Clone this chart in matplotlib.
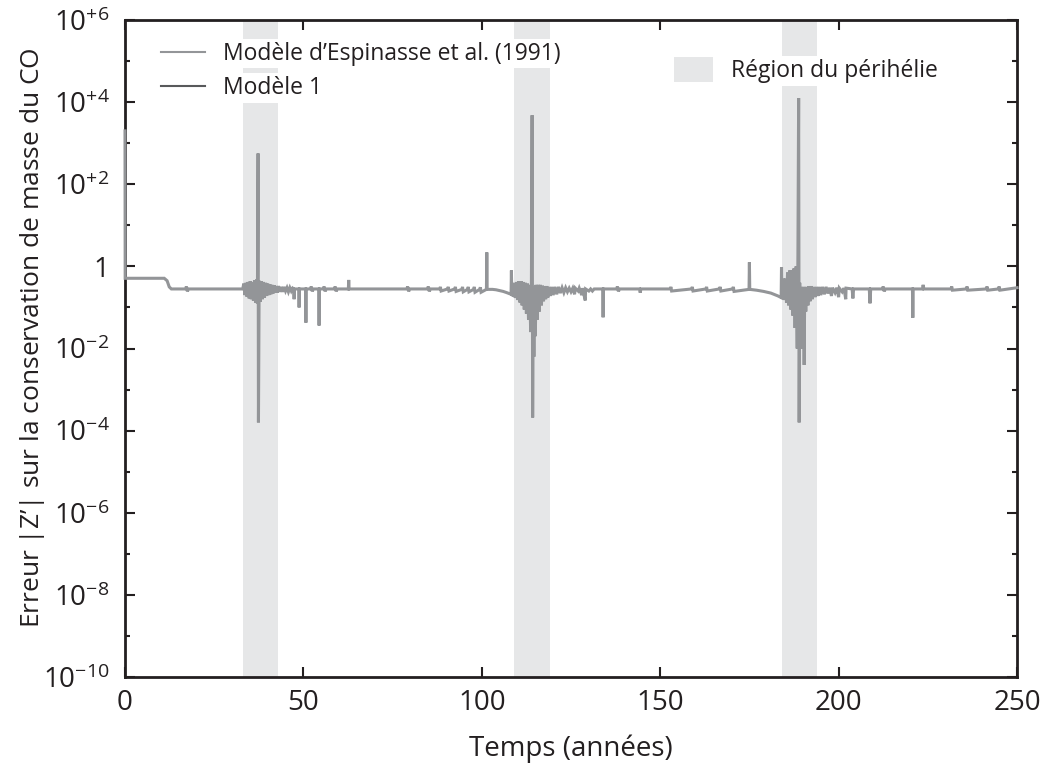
import matplotlib
matplotlib.use("Agg")
import matplotlib.pyplot as plt
from matplotlib.lines import Line2D
from matplotlib.patches import Patch
from matplotlib.ticker import NullFormatter, FixedLocator
import numpy as np

plt.rcParams['font.family'] = ['Open Sans', 'DejaVu Sans']
plt.rcParams['mathtext.fontset'] = 'custom'
plt.rcParams['mathtext.rm'] = 'Open Sans'
plt.rcParams['mathtext.it'] = 'Open Sans:italic'
plt.rcParams['mathtext.default'] = 'regular'

# data: time (years) and log10 of the error |Z'|
t_debut = [0, 0.05, 11.0, 11.8, 12.4, 13.0, 17.0, 17.2, 17.5, 17.8, 33.0]
z_debut = [3.3, -0.29, -0.29, -0.35, -0.5, -0.55, -0.55, -0.49, -0.61, -0.55, -0.55]

t_p1 = [33.3, 33.6, 33.9, 34.2, 34.5, 34.8, 35.1, 35.4, 35.7, 36.0, 36.3, 36.6, 36.9, 37.1,
        37.3, 37.4, 37.6, 37.9, 38.2, 38.5, 38.8, 39.1, 39.4, 39.7, 40.0, 40.3, 40.6, 40.9,
        41.2, 41.5, 41.8, 42.1, 42.4, 42.7, 43.0, 43.4, 43.8, 44.2, 44.6, 45.0, 45.4, 45.8,
        46.2, 46.6, 47.0]
z_p1 = [-0.42, -0.70, -0.40, -0.74, -0.38, -0.78, -0.36, -0.80, -0.38, -0.84, -0.34, -0.88, -0.32, -0.9,
        2.75, -3.8, -0.35, -0.86, -0.36, -0.80, -0.38, -0.76, -0.40, -0.72, -0.42, -0.70, -0.44, -0.68,
        -0.45, -0.66, -0.46, -0.64, -0.48, -0.64, -0.48, -0.62, -0.50, -0.62, -0.50, -0.60, -0.52, -0.62,
        -0.52, -0.60, -0.53]

t_milieu1 = [47.3, 47.4, 47.5, 48.7, 48.8, 48.9, 50.6, 50.7, 50.8, 52.0, 52.2, 52.5, 52.8,
             54.3, 54.4, 54.5, 55.6, 55.8, 56.1, 56.4, 58.7, 58.9, 59.2, 59.5, 62.6, 62.7, 62.8,
             79.0, 79.2, 79.5, 79.8, 84.8, 85.0, 85.3, 85.6, 88.2, 88.4, 88.6, 90.4, 90.6, 90.8,
             92.4, 92.6, 92.8, 94.4, 94.6, 94.8, 96.0, 96.2, 96.4, 97.7, 97.9, 98.1, 99.4, 99.6, 99.8,
             101.3, 101.4, 101.5, 103.0, 104.0, 105.0, 106.0, 107.0, 108.2, 108.3, 108.4, 109.0]
z_milieu1 = [-0.55, -0.80, -0.55, -0.55, -1.0, -0.55, -0.55, -1.37, -0.55, -0.55, -0.49, -0.61, -0.55,
             -0.55, -1.44, -0.55, -0.55, -0.49, -0.61, -0.55, -0.55, -0.49, -0.61, -0.55, -0.55, -0.33, -0.55,
             -0.55, -0.49, -0.61, -0.55, -0.55, -0.49, -0.61, -0.55, -0.55, -0.50, -0.60, -0.55, -0.50, -0.60,
             -0.55, -0.50, -0.61, -0.56, -0.50, -0.62, -0.56, -0.50, -0.62, -0.56, -0.50, -0.63, -0.56, -0.51, -0.63,
             -0.56, 0.34, -0.56, -0.56, -0.57, -0.59, -0.61, -0.64, -0.68, -0.1, -0.69, -0.72]

t_p2 = [109.2, 109.5, 109.8, 110.1, 110.4, 110.7, 111.0, 111.3, 111.6, 111.9, 112.2, 112.5, 112.8,
        113.1, 113.4, 113.7, 113.9, 114.1, 114.25, 114.4, 114.6, 114.8, 115.0, 115.2, 115.5, 115.8,
        116.1, 116.4, 116.7, 117.0, 117.3, 117.6, 117.9, 118.2, 118.5, 118.8, 119.2, 119.6, 120.0,
        120.5, 121.0, 121.5, 122.0, 122.5, 123.0, 123.5, 124.0, 124.5, 125.0, 125.5, 126.0, 126.2,
        127.0, 127.3, 128.0, 128.2, 129.0, 129.1, 130.0, 130.5, 131.0, 131.5]
z_p2 = [-0.40, -0.76, -0.38, -0.82, -0.36, -0.88, -0.36, -0.95, -0.38, -1.05, -0.40, -1.15, -0.42,
        -1.3, -0.45, -1.6, -0.5, 3.68, -3.68, -0.55, -2.2, -0.5, -1.7, -0.45, -1.3, -0.45,
        -1.1, -0.45, -0.95, -0.47, -0.85, -0.48, -0.80, -0.48, -0.76, -0.50, -0.72, -0.50, -0.70,
        -0.50, -0.68, -0.50, -0.65, -0.52, -0.64, -0.52, -0.62, -0.53, -0.62, -0.53, -0.68, -0.53,
        -0.60, -0.53, -0.70, -0.53, -0.83, -0.55, -0.60, -0.55, -0.60, -0.55]

t_milieu2 = [133.9, 134.0, 134.1, 137.8, 138.0, 138.3, 138.6, 144.2, 144.4, 144.6, 152.8, 153.0, 153.2,
             158.8, 159.0, 159.2, 162.8, 163.0, 163.2, 166.6, 166.8, 167.0, 170.3, 170.5, 170.7,
             174.9, 175.0, 175.1, 177.0, 179.0, 181.0, 183.0, 183.9]
z_milieu2 = [-0.55, -1.24, -0.55, -0.55, -0.49, -0.61, -0.55, -0.55, -0.64, -0.55, -0.55, -0.50, -0.60,
             -0.55, -0.50, -0.60, -0.55, -0.50, -0.60, -0.55, -0.50, -0.60, -0.55, -0.50, -0.61,
             -0.56, 0.1, -0.56, -0.58, -0.61, -0.65, -0.72, -0.76]

t_p3 = [184.0, 184.1, 184.5, 184.8, 185.1, 185.4, 185.7, 186.0, 186.3, 186.6, 186.9, 187.2, 187.5,
        187.8, 188.1, 188.4, 188.6, 188.8, 188.95, 189.1, 189.4, 189.6, 189.9, 190.2, 190.35, 190.5,
        190.8, 191.1, 191.4, 191.7, 192.0, 192.3, 192.6, 193.0, 193.4, 193.8, 194.2, 194.6, 195.0,
        195.5, 196.0, 196.5, 197.0, 197.5, 198.0, 198.3, 199.0, 199.5, 200.0, 200.2, 201.0, 201.5,
        202.0, 202.1]
z_p3 = [-0.02, -0.78, -0.3, -0.82, -0.3, -0.88, -0.15, -0.95, -0.1, -1.05, -0.1, -1.2, -0.05,
        -1.5, 0.0, -2.0, 0.3, 4.1, -3.8, -0.4, -2.0, -0.5, -1.5, -0.5, -2.4, -0.5,
        -1.1, -0.5, -0.95, -0.48, -0.85, -0.48, -0.8, -0.5, -0.75, -0.5, -0.72, -0.5, -0.7,
        -0.5, -0.68, -0.5, -0.66, -0.52, -0.72, -0.52, -0.64, -0.52, -0.75, -0.53, -0.62, -0.53,
        -0.8, -0.53]

t_fin = [203.8, 204.0, 204.2, 208.6, 208.8, 209.0, 212.3, 212.5, 212.8, 213.1, 220.7, 220.8, 220.9,
         223.5, 223.7, 223.9, 231.5, 231.7, 231.9, 235.8, 236.0, 236.2, 241.4, 241.6, 241.8,
         244.8, 245.0, 245.2, 250.0]
z_fin = [-0.55, -0.78, -0.55, -0.55, -0.9, -0.55, -0.55, -0.49, -0.61, -0.55, -0.55, -1.25, -0.55,
         -0.55, -0.45, -0.55, -0.55, -0.49, -0.58, -0.55, -0.49, -0.58, -0.55, -0.49, -0.58,
         -0.55, -0.49, -0.58, -0.52]

# perihelion regions (years)
perihelie_debut = [33, 109, 184]
perihelie_fin = [43, 119, 194]

temps = np.array(t_debut + t_p1 + t_milieu1 + t_p2 + t_milieu2 + t_p3 + t_fin)
erreur = 10.0 ** np.array(z_debut + z_p1 + z_milieu1 + z_p2 + z_milieu2 + z_p3 + z_fin)

noir = '#231f20'
gris = '#939598'
gris_fonce = '#58595b'
gris_bande = '#e6e7e8'

fig = plt.figure(figsize=(10.4, 7.66), dpi=100)
ax = fig.add_axes([125 / 1040, 1 - 677 / 766, (1017 - 125) / 1040, (677 - 20) / 766])

for a, b in zip(perihelie_debut, perihelie_fin):
    ax.axvspan(a, b, color=gris_bande, lw=0, zorder=0)

# drawn above the spines, as in the original (the first point lies on the left spine)
ax.plot(temps, erreur, color=gris, lw=2.2, zorder=3, clip_on=False, solid_joinstyle='miter')

ax.set_yscale('log')
ax.set_xlim(0, 250)
ax.set_ylim(1e-10, 1e6)

yt = [10.0 ** k for k in range(-10, 7, 2)]
ylabs = ['10$^{%d}$' % k if k < 0 else ('1' if k == 0 else '10$^{+%d}$' % k) for k in range(-10, 7, 2)]
ax.set_yticks(yt)
ax.set_yticklabels(ylabs)
ax.yaxis.set_minor_locator(FixedLocator([10.0 ** k for k in range(-9, 6, 2)]))
ax.yaxis.set_minor_formatter(NullFormatter())
ax.set_xticks([0, 50, 100, 150, 200, 250])

ax.tick_params(which='major', direction='in', length=7, width=1.5, colors=noir, labelsize=20)
ax.tick_params(which='minor', direction='in', length=3.5, width=1.5, colors=noir)
ax.tick_params(axis='y', which='both', right=True)
ax.tick_params(axis='x', which='both', top=True)
ax.tick_params(axis='y', which='major', pad=11)
ax.tick_params(axis='x', which='major', pad=9)
for s in ax.spines.values():
    s.set_linewidth(2)
    s.set_color(noir)

ax.set_xlabel('Temps (années)', fontsize=20, color=noir, labelpad=12)
ax.set_ylabel("Erreur |$Z$\u2019| sur la conservation de masse du CO", fontsize=19, color=noir)
ax.yaxis.set_label_coords(-0.088, 0.517)

h1 = [Line2D([], [], color=gris, lw=1.5), Line2D([], [], color=gris_fonce, lw=1.5)]
leg1 = ax.legend(h1, ["Modèle d\u2019Espinasse et al. (1991)", 'Modèle 1'],
                 loc='upper left', bbox_to_anchor=(0.02, 0.995), frameon=False,
                 fontsize=16.5, handlelength=1.9, handletextpad=0.8, labelspacing=0.45,
                 labelcolor=noir, borderaxespad=0.4)
for t in leg1.get_texts():
    t.set_bbox(dict(facecolor='white', edgecolor='none', pad=2))
ax.add_artist(leg1)

leg2 = ax.legend([Patch(facecolor=gris_bande, edgecolor='none')], ['Région du périhélie'],
                 loc='upper left', bbox_to_anchor=(0.592, 0.975), frameon=False,
                 fontsize=16.5, handlelength=1.7, handleheight=1.3, handletextpad=0.8,
                 labelcolor=noir)
for t in leg2.get_texts():
    t.set_bbox(dict(facecolor='white', edgecolor='none', pad=2))

fig.savefig('out.png', dpi=100)
